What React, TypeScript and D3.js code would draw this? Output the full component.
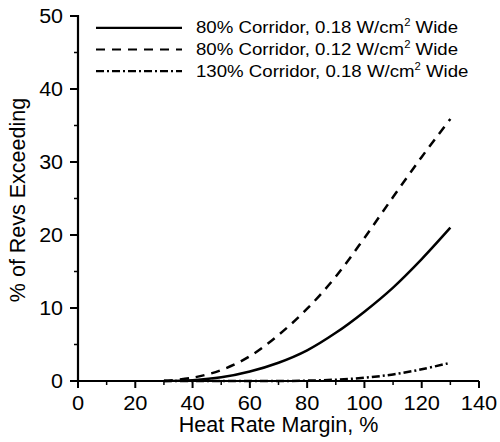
import React from "react";
import * as d3 from "d3";

const margins = [30, 40, 50, 60, 70, 80, 90, 100, 110, 120, 130];
const corridor80Wide18 = [0, 0.12, 0.5, 1.3, 2.5, 4.2, 6.6, 9.5, 12.8, 16.7, 21.0];
const corridor80Wide12 = [0.02, 0.45, 1.5, 3.4, 6.3, 9.9, 14.3, 19.6, 25.2, 30.7, 35.9];
const corridor130Wide18 = [0, 0, 0, 0, 0, 0.05, 0.18, 0.45, 0.9, 1.6, 2.5];

const xTicks = [0, 20, 40, 60, 80, 100, 120, 140];
const xMinorTicks = [10, 30, 50, 70, 90, 110, 130];
const yTicks = [0, 10, 20, 30, 40, 50];
const yMinorTicks = [5, 15, 25, 35, 45];

const seriesNames = ["80% Corridor, 0.18 W/cm", "80% Corridor, 0.12 W/cm", "130% Corridor, 0.18 W/cm"];
const seriesValues = [corridor80Wide18, corridor80Wide12, corridor130Wide18];
const seriesDash = ["none", "9,7", "8,3,2,3"];

const xTitle = "Heat Rate Margin, %";
const yTitle = "% of Revs Exceeding";

const W = 500;
const H = 442;
const FONT = "'Liberation Sans', Arial, Helvetica, sans-serif";

export default function App() {
  const x = d3.scaleLinear().domain([0, 140]).range([78, 479]);
  const y = d3.scaleLinear().domain([0, 50]).range([381, 16]);
  const line = d3
    .line<number>()
    .x((_, i) => x(margins[i]))
    .y((d) => y(Math.max(0, d)))
    .curve(d3.curveCatmullRom.alpha(0.5));

  const x0 = x(0);
  const y0 = y(0);

  return (
    <svg
      width={W}
      height={H}
      style={{ position: "absolute", left: 0, top: 0, background: "#fff" }}
      fontFamily={FONT}
    >
      <rect width={W} height={H} fill="#fff" />
      {/* curves */}
      {seriesValues.map((vals, i) => (
        <path
          key={i}
          d={line(vals) || ""}
          fill="none"
          stroke="#000"
          strokeWidth={2.5}
          strokeDasharray={seriesDash[i]}
        />
      ))}
      {/* axes */}
      <line x1={x0} x2={x(140)} y1={y0} y2={y0} stroke="#000" strokeWidth={2.2} />
      <line x1={x0} x2={x0} y1={y0 + 1} y2={y(50) - 1} stroke="#000" strokeWidth={2.2} />
      {xTicks.map((t) => (
        <g key={"xt" + t}>
          <line x1={x(t)} x2={x(t)} y1={y0} y2={y0 + 7} stroke="#000" strokeWidth={2} />
          <text
            transform={`translate(${x(t)},410) scale(1.12,1)`}
            textAnchor="middle"
            fontSize={19.5}
            fill="#000"
          >
            {t}
          </text>
        </g>
      ))}
      {xMinorTicks.map((t) => (
        <line key={"xm" + t} x1={x(t)} x2={x(t)} y1={y0} y2={y0 + 4} stroke="#000" strokeWidth={1.5} />
      ))}
      {yTicks.map((t) => (
        <g key={"yt" + t}>
          <line x1={x0 - 8} x2={x0} y1={y(t)} y2={y(t)} stroke="#000" strokeWidth={2} />
          <text
            transform={`translate(63,${y(t) + 7}) scale(1.1,1)`}
            textAnchor="end"
            fontSize={19.5}
            fill="#000"
          >
            {t}
          </text>
        </g>
      ))}
      {yMinorTicks.map((t) => (
        <line key={"ym" + t} x1={x0 - 4} x2={x0} y1={y(t)} y2={y(t)} stroke="#000" strokeWidth={1.5} />
      ))}
      {/* titles */}
      <text x={(x0 + x(140)) / 2} y={432} textAnchor="middle" fontSize={21.5} fill="#000">
        {xTitle}
      </text>
      <text
        transform={`translate(25,200) rotate(-90)`}
        textAnchor="middle"
        fontSize={21.5}
        fill="#000"
      >
        {yTitle}
      </text>
      {/* legend */}
      {seriesNames.map((name, i) => {
        const base = 33.3 + i * 21.7;
        return (
          <g key={"lg" + i}>
            <line
              x1={96}
              x2={182}
              y1={base - 5.5}
              y2={base - 5.5}
              stroke="#000"
              strokeWidth={2.2}
              strokeDasharray={seriesDash[i]}
            />
            <text transform={`translate(196,${base}) scale(1.13,1)`} fontSize={16.5} fill="#000">
              {name}
              <tspan fontSize={10} dy={-7}>
                2
              </tspan>
              <tspan dy={7}> Wide</tspan>
            </text>
          </g>
        );
      })}
    </svg>
  );
}
